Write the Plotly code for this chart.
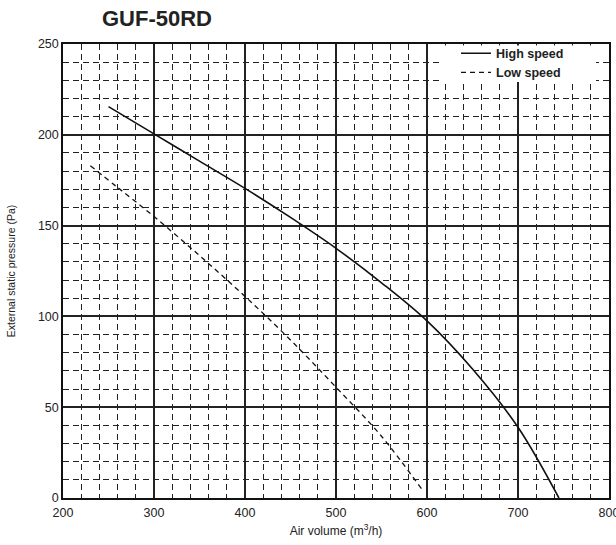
import plotly.graph_objects as go

# Data
high_x = [250, 300, 350, 400, 450, 500, 550, 600, 650, 700, 745]
high_y = [215.5, 200.5, 185.5, 170.5, 154.5, 137.5, 118.5, 97.5, 71, 39, 0]
low_x = [230, 260, 300, 350, 400, 450, 500, 550, 594]
low_y = [183, 171, 155, 133.5, 111, 87, 61, 34, 5]

x_ticks = [200, 300, 400, 500, 600, 700, 800]
y_ticks = [0, 50, 100, 150, 200, 250]

FONT = "Liberation Sans, Arial, sans-serif"

fig = go.Figure()
fig.add_trace(go.Scatter(x=high_x, y=high_y, mode="lines", name="High speed",
                         line=dict(color="#111", width=1.6, shape="spline", smoothing=1.0)))
fig.add_trace(go.Scatter(x=low_x, y=low_y, mode="lines", name="Low speed",
                         line=dict(color="#111", width=1.3, dash="5px,4px", shape="spline", smoothing=1.0)))

axis_common = dict(
    showline=True, linecolor="#111", linewidth=1.5, mirror=True,
    showgrid=True, gridcolor="#222", gridwidth=1.5, automargin=False,
    zeroline=False, ticks="", tickfont=dict(family=FONT, size=12.5, color="#222"),
    ticklabeloverflow="allow",
)

fig.update_xaxes(range=[200, 800], tickvals=x_ticks, ticklabelstandoff=2,
                 minor=dict(dtick=20, tick0=200, showgrid=True, gridcolor="#222",
                            gridwidth=1.2, griddash="6px,4px"),
                 title=dict(text="Air volume (m<sup>3</sup>/h)", font=dict(family=FONT, size=12, color="#222"),
                            standoff=8),
                 **axis_common)
fig.update_yaxes(range=[0, 250], tickvals=y_ticks,
                 minor=dict(dtick=10, tick0=0, showgrid=True, gridcolor="#222",
                            gridwidth=1.2, griddash="6px,4px"),
                 title=dict(text="External static pressure (Pa)", font=dict(family=FONT, size=10.5, color="#222"),
                            standoff=20),
                 **axis_common)

# white panel behind the legend (hides grid there, as in the reference)
fig.add_shape(type="rect", xref="paper", yref="paper",
              x0=(443 - 63) / 546, x1=(596 - 63) / 546, y0=(498 - 82) / 454, y1=1 - 1.5 / 454,
              fillcolor="white", line=dict(width=0), layer="above")

fig.update_layout(
    width=616, height=545,
    margin=dict(l=63, r=7, t=44, b=47, autoexpand=False),
    paper_bgcolor="white", plot_bgcolor="white",
    title=dict(text="<b>GUF-50RD</b>", x=102/616, xanchor="left", y=1 - 18/545, yanchor="middle",
               font=dict(family=FONT, size=22, color="#222"), automargin=False),
    legend=dict(x=(456 - 63) / 546, xanchor="left", y=1.012, yanchor="top", bgcolor="rgba(0,0,0,0)",
                borderwidth=0, font=dict(family=FONT, size=12.5, color="#222", weight="bold"),
                itemwidth=30, tracegroupgap=0),
    showlegend=True,
)

fig.write_html("out.html", config={"displayModeBar": False},
               post_script="document.body.style.margin='0px';")
